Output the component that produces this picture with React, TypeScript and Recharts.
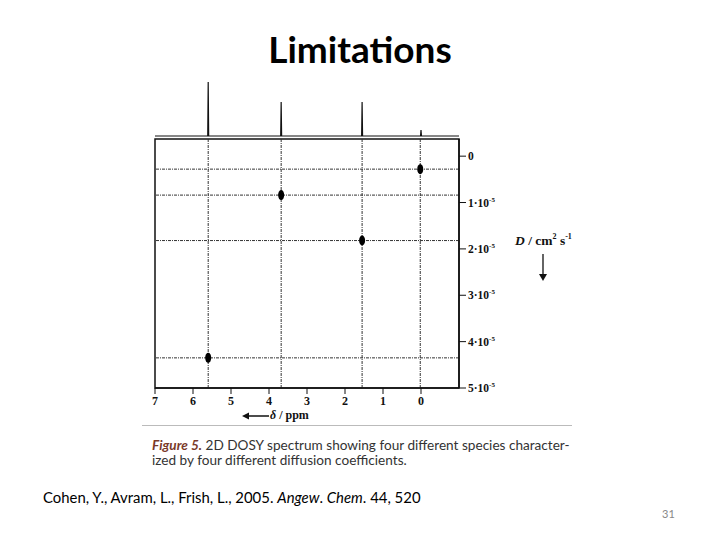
import React from 'react';
import {
  ScatterChart, Scatter, XAxis, YAxis, ReferenceLine, ReferenceArea,
  LineChart, Line,
} from 'recharts';

// chemical shift (ppm) and diffusion coefficient (x 1e-5 cm2/s) of the four species
const speciesPpm = [5.6, 3.68, 1.55, 0.02];
const speciesD = [4.35, 0.84, 1.82, 0.28];

// 1D projection on top: relative peak heights
const peakPpm = [5.6, 3.68, 1.55, 0.0];
const peakHeight = [1.0, 0.63, 0.63, 0.11];

const ppmTicks = [0, 1, 2, 3, 4, 5, 6, 7];
const dTicks = [0, 1, 2, 3, 4, 5];

const serif = '"Liberation Serif", "DejaVu Serif", serif';
const sans = 'Lato, "Open Sans", sans-serif';

const points = speciesPpm.map((p, i) => ({ ppm: p, d: speciesD[i] }));

// baseline + narrow peaks for the projection trace
const spectrum = (() => {
  const pts = [{ ppm: -1, h: 0 }, { ppm: 7, h: 0 }];
  peakPpm.forEach((p, i) => {
    pts.push({ ppm: p - 0.012, h: 0 }, { ppm: p, h: peakHeight[i] }, { ppm: p + 0.012, h: 0 });
  });
  return pts.sort((a, b) => a.ppm - b.ppm);
})();

const DTick = (props: any) => {
  const { x, y, payload } = props;
  const v = payload.value;
  return (
    <text x={x} y={y} dy={4} fontFamily={serif} fontWeight="bold" fontSize={11.5} fill="#111">
      {v === 0 ? '0' : (
        <>
          {v}·10<tspan dy={-5} fontSize={7}>-5</tspan>
        </>
      )}
    </text>
  );
};

const Dot = (props: any) => {
  const { cx, cy } = props;
  return <ellipse cx={cx} cy={cy} rx={3} ry={5} fill="#000" />;
};

const abs = (left: number, top: number): React.CSSProperties => ({ position: 'absolute', left, top });

const App = () => {
  return (
    <div style={{ position: 'absolute', left: 0, top: 0, width: 720, height: 540, background: '#fff', overflow: 'hidden' }}>
      <div style={{ ...abs(0, 26), width: 720, textAlign: 'center', fontFamily: sans, fontWeight: 'bold', fontSize: 37, color: '#000' }}>
        Limitations
      </div>

      {/* projection spectrum */}
      <div style={abs(0, 0)}>
        <LineChart width={720} height={140} data={spectrum} margin={{ top: 82, right: 261, bottom: 4, left: 155 }}>
          <XAxis dataKey="ppm" type="number" domain={[-1, 7]} reversed hide />
          <YAxis type="number" domain={[0, 1]} hide />
          <Line dataKey="h" type="linear" stroke="#111" strokeWidth={1.2} dot={false} isAnimationActive={false} />
        </LineChart>
      </div>

      {/* 2D DOSY map */}
      <div style={abs(0, 0)}>
        <ScatterChart width={720} height={540} margin={{ top: 139, right: 181, bottom: 122, left: 155 }}>
          <XAxis
            dataKey="ppm" type="number" domain={[-1, 7]} reversed ticks={ppmTicks}
            height={30} tickSize={6} tickLine={{ stroke: '#111' }} axisLine={{ stroke: '#111', strokeWidth: 1.5 }}
            tick={{ fontFamily: serif, fontWeight: 'bold', fontSize: 12, fill: '#111' }}
          />
          <YAxis
            yAxisId="d" dataKey="d" type="number" orientation="right" domain={[-0.37, 5]} reversed ticks={dTicks}
            width={80} tickSize={7} tickLine={{ stroke: '#111' }} axisLine={{ stroke: '#111', strokeWidth: 1.5 }}
            tick={<DTick />} allowDataOverflow
          />
          <ReferenceArea yAxisId="d" x1={-1} x2={7} y1={-0.37} y2={5} fill="none" stroke="#111" strokeWidth={1.5} />
          {speciesPpm.map((p) => (
            <ReferenceLine key={'v' + p} yAxisId="d" x={p} stroke="#333" strokeDasharray="3 1 1 1" />
          ))}
          {speciesD.map((d) => (
            <ReferenceLine key={'h' + d} yAxisId="d" y={d} stroke="#333" strokeDasharray="3 1 1 1" />
          ))}
          <Scatter yAxisId="d" data={points} shape={<Dot />} isAnimationActive={false} />
        </ScatterChart>
      </div>

      {/* D axis title with arrow */}
      <div style={{ ...abs(515, 232), fontFamily: serif, fontWeight: 'bold', fontSize: 13.5, color: '#111', whiteSpace: 'nowrap' }}>
        <i>D</i> / cm<sup style={{ fontSize: 8 }}>2</sup> s<sup style={{ fontSize: 8 }}>-1</sup>
      </div>
      <svg style={abs(536, 252)} width={14} height={34}>
        <line x1={7} y1={2} x2={7} y2={24} stroke="#111" strokeWidth={1.3} />
        <polygon points="3,22 11,22 7,29" fill="#111" />
      </svg>

      {/* delta axis title with arrow */}
      <svg style={abs(240, 410)} width={30} height={12}>
        <line x1={6} y1={6} x2={29} y2={6} stroke="#111" strokeWidth={1.5} />
        <polygon points="2,6 9,2.5 9,9.5" fill="#111" />
      </svg>
      <div style={{ ...abs(270, 408), fontFamily: serif, fontWeight: 'bold', fontSize: 12, color: '#111', whiteSpace: 'nowrap' }}>
        <i>δ</i> / ppm
      </div>

      <div style={{ ...abs(142, 425), width: 430, height: 1, background: '#bbb' }} />
      <div style={{ ...abs(152, 438), fontFamily: sans, fontSize: 13.6, color: '#333', lineHeight: '15px', whiteSpace: 'nowrap' }}>
        <span style={{ fontStyle: 'italic', fontWeight: 'bold', color: '#7a3a2a' }}>Figure 5.</span>
        {'  '}2D DOSY spectrum showing four different species character-<br />
        ized by four different diffusion coefficients.
      </div>

      <div style={{ ...abs(43, 488), fontFamily: sans, fontSize: 14.9, color: '#000', whiteSpace: 'nowrap' }}>
        Cohen, Y., Avram, L., Frish, L., 2005. <i>Angew</i>. <i>Chem</i>. 44, 520
      </div>

      <div style={{ ...abs(662, 507), fontFamily: sans, fontSize: 11, color: '#888' }}>31</div>
    </div>
  );
};

export default App;
